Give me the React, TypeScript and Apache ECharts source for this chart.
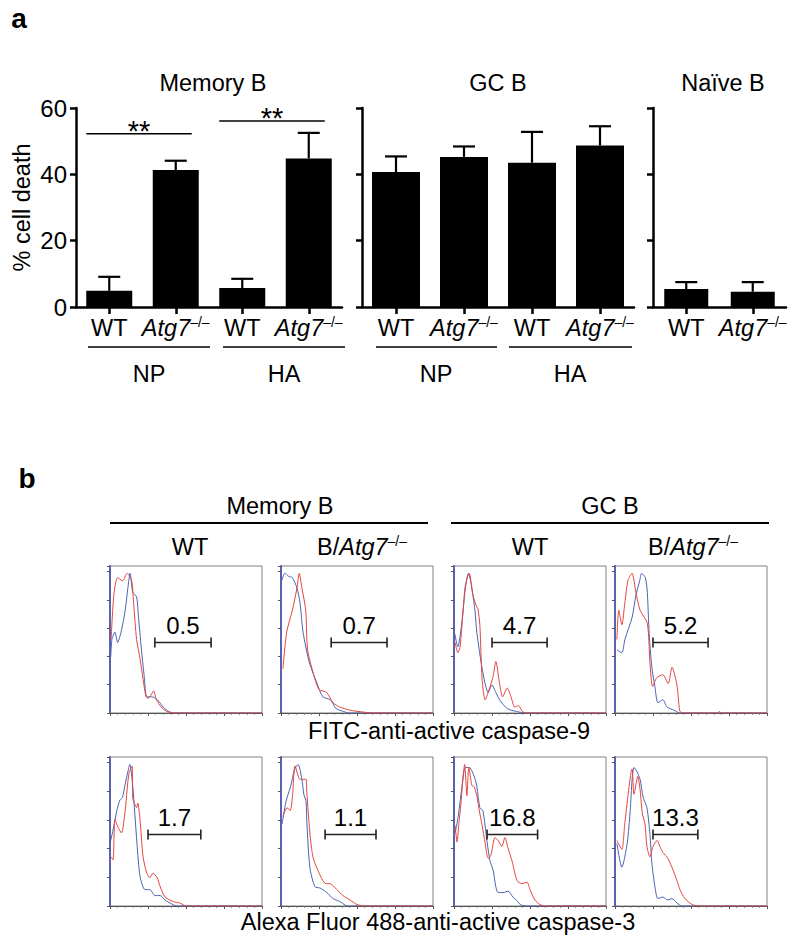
import React, { useEffect, useRef } from 'react';
import * as echarts from 'echarts';

const FONT = '"Liberation Sans", Arial, Helvetica, sans-serif';
const FS = 23.5;

// ---------- Panel a data ----------
const memCats = ['WT-NP', 'KO-NP', 'WT-HA', 'KO-HA'];
const memMeans = [4.9, 41.3, 5.7, 44.8];
const memErrTop = [9.1, 44.1, 8.5, 52.5];
const gcCats = ['WT-NP', 'KO-NP', 'WT-HA', 'KO-HA'];
const gcMeans = [40.7, 45.2, 43.5, 48.7];
const gcErrTop = [45.4, 48.4, 52.8, 54.5];
const naiveCats = ['WT', 'KO'];
const naiveMeans = [5.4, 4.6];
const naiveErrTop = [7.5, 7.5];
const yMax = 60;
const yInterval = 20;
const sigBrackets = [[0, 1, 52.2], [2, 3, 56.1]];
const sigLabel = '**';

// ---------- Panel b data (x: log decades, y: % of max) ----------
const mem9WtBlue = [[0.02, 38], [0.05, 50], [0.13, 55], [0.2, 48], [0.3, 56], [0.4, 70], [0.47, 85], [0.53, 95], [0.6, 82], [0.7, 79], [0.75, 65], [0.82, 45], [0.9, 25], [0.97, 11], [1.1, 11], [1.25, 9], [1.4, 4], [1.55, 1], [1.7, 0], [4, 0]];
const mem9WtRed = [[0.03, 50], [0.1, 80], [0.2, 92], [0.33, 90], [0.45, 95], [0.57, 90], [0.62, 75], [0.7, 50], [0.79, 37], [0.87, 23], [0.95, 11], [1.0, 10], [1.05, 11], [1.15, 15], [1.22, 9], [1.35, 4], [1.5, 1], [1.7, 0], [4, 0]];
const mem9KoBlue = [[0.02, 90], [0.1, 95], [0.2, 93], [0.3, 92], [0.42, 85], [0.5, 75], [0.58, 55], [0.75, 34], [0.95, 20], [1.1, 11], [1.3, 9], [1.45, 3], [1.65, 1], [1.8, 0], [4, 0]];
const mem9KoRed = [[0.05, 30], [0.15, 55], [0.3, 70], [0.42, 85], [0.48, 95], [0.55, 85], [0.65, 70], [0.7, 43], [0.85, 27], [1.0, 16], [1.2, 14], [1.37, 7], [1.55, 4], [1.8, 2], [2.2, 0.5], [2.5, 0], [4, 0]];
const gc9WtBlue = [[0.02, 54], [0.1, 45], [0.2, 60], [0.3, 85], [0.38, 95], [0.45, 88], [0.55, 70], [0.6, 55], [0.75, 29], [0.9, 14], [1.0, 19], [1.1, 14], [1.2, 9], [1.4, 3], [1.65, 1], [1.9, 0], [4, 0]];
const gc9WtRed = [[0.03, 48], [0.1, 41], [0.16, 45], [0.24, 70], [0.3, 87], [0.4, 95], [0.5, 80], [0.6, 72], [0.63, 71], [0.68, 60], [0.74, 23], [0.82, 9], [0.95, 18], [1.03, 25], [1.1, 35], [1.2, 20], [1.28, 11], [1.4, 17], [1.5, 11], [1.6, 4], [1.7, 5], [1.8, 1], [1.9, 0], [4, 0]];
const gc9KoBlue = [[0.05, 43], [0.18, 41], [0.26, 50], [0.45, 65], [0.55, 80], [0.65, 90], [0.7, 95], [0.8, 92], [0.85, 82], [0.9, 54], [0.97, 31], [1.05, 18], [1.13, 7], [1.26, 9], [1.37, 4], [1.55, 2], [1.7, 0], [4, 0]];
const gc9KoRed = [[0.05, 50], [0.1, 70], [0.18, 60], [0.26, 75], [0.34, 90], [0.45, 95], [0.55, 82], [0.66, 70], [0.85, 61], [0.92, 34], [0.99, 18], [1.1, 24], [1.26, 26], [1.4, 20], [1.5, 31], [1.63, 19], [1.7, 2], [1.76, 0], [2.7, 0], [2.75, 1], [2.8, 0], [4, 0]];
const mem3WtBlue = [[0.0, 42], [0.08, 51], [0.18, 64], [0.26, 71], [0.33, 73], [0.4, 82], [0.47, 90], [0.52, 95], [0.6, 80], [0.71, 42], [0.79, 20], [0.92, 11], [1.05, 11], [1.18, 7], [1.32, 7], [1.45, 4], [1.58, 2], [1.76, 0], [4, 0]];
const mem3WtRed = [[0.03, 33], [0.08, 31], [0.13, 58], [0.21, 53], [0.3, 49], [0.4, 64], [0.45, 78], [0.5, 89], [0.58, 94], [0.6, 72], [0.66, 68], [0.7, 66], [0.73, 69], [0.79, 58], [0.87, 33], [0.97, 22], [1.05, 19], [1.13, 22], [1.24, 19], [1.32, 13], [1.45, 6], [1.66, 3], [1.84, 2], [2.0, 0], [4, 0]];
const mem3KoBlue = [[0.03, 55], [0.13, 70], [0.25, 80], [0.36, 92], [0.45, 95], [0.55, 85], [0.6, 75], [0.66, 70], [0.68, 56], [0.76, 26], [0.89, 13], [1.03, 12], [1.21, 9], [1.37, 5], [1.55, 3], [1.75, 0], [4, 0]];
const mem3KoRed = [[0.05, 60], [0.16, 66], [0.24, 64], [0.3, 73], [0.37, 94], [0.5, 85], [0.58, 85], [0.66, 85], [0.68, 76], [0.76, 49], [0.84, 33], [0.97, 24], [1.18, 15], [1.29, 15], [1.47, 11], [1.63, 7], [1.82, 4], [2.0, 1], [2.2, 0], [4, 0]];
const gc3WtBlue = [[0.03, 49], [0.11, 60], [0.2, 78], [0.3, 93], [0.4, 93], [0.58, 83], [0.68, 66], [0.76, 64], [0.87, 43], [0.95, 30], [1.03, 24], [1.1, 13], [1.16, 9], [1.29, 9], [1.42, 10], [1.55, 6], [1.68, 3], [1.74, 1], [1.9, 0], [4, 0]];
const gc3WtRed = [[0.03, 54], [0.08, 43], [0.13, 56], [0.18, 68], [0.24, 87], [0.28, 95], [0.34, 74], [0.39, 93], [0.47, 81], [0.53, 80], [0.6, 74], [0.68, 62], [0.74, 54], [0.82, 42], [0.9, 32], [0.97, 34], [1.08, 46], [1.16, 44], [1.26, 40], [1.34, 46], [1.42, 39], [1.53, 30], [1.66, 17], [1.79, 15], [1.92, 16], [2.0, 11], [2.13, 4], [2.26, 1], [2.4, 0], [4, 0]];
const gc3KoBlue = [[0.05, 42], [0.18, 26], [0.32, 42], [0.4, 64], [0.45, 85], [0.5, 93], [0.58, 90], [0.66, 85], [0.74, 73], [0.84, 66], [0.92, 48], [0.97, 29], [1.05, 13], [1.13, 5], [1.26, 6], [1.39, 4], [1.5, 5], [1.63, 2], [1.76, 0], [4, 0]];
const gc3KoRed = [[0.05, 44], [0.18, 38], [0.26, 56], [0.45, 92], [0.5, 75], [0.6, 87], [0.66, 78], [0.72, 62], [0.79, 55], [0.84, 40], [0.92, 33], [1.0, 40], [1.11, 44], [1.18, 40], [1.26, 36], [1.39, 32], [1.53, 24], [1.63, 17], [1.71, 11], [1.84, 5], [2.03, 1], [2.2, 0], [4, 0]];

// gates: [start decade, end decade, height %]
const gates = [[1.18, 2.66, 48], [1.32, 2.79, 48], [1.0, 2.45, 48], [1.0, 2.45, 48], [1.0, 2.39, 48], [1.16, 2.5, 48], [0.87, 2.2, 48], [1.0, 2.18, 48]];
const gateLabels = ['0.5', '0.7', '4.7', '5.2', '1.7', '1.1', '16.8', '13.3'];
const histBlue = [mem9WtBlue, mem9KoBlue, gc9WtBlue, gc9KoBlue, mem3WtBlue, mem3KoBlue, gc3WtBlue, gc3KoBlue];
const histRed = [mem9WtRed, mem9KoRed, gc9WtRed, gc9KoRed, mem3WtRed, mem3KoRed, gc3WtRed, gc3KoRed];

const BLUE = '#4a62b4';
const RED = '#e4453d';

function buildOption() {
  const axisBlack = { color: '#000', width: 2.5 };
  const catLabel = {
    interval: 0,
    margin: 8,
    formatter: (v: string) => (v.startsWith('WT') ? '{n|WT}' : '{i|Atg7}{s|–/–}'),
    rich: {
      n: { fontFamily: FONT, fontSize: FS, color: '#000', lineHeight: 26 },
      i: { fontFamily: FONT, fontSize: FS, fontStyle: 'italic', color: '#000', lineHeight: 26 },
      s: { fontFamily: FONT, fontSize: 14, color: '#000', verticalAlign: 'top' },
    },
  };
  const barGrids = [
    { left: 76, top: 108, width: 266, height: 199 },
    { left: 362, top: 108, width: 272, height: 199 },
    { left: 653, top: 108, width: 133, height: 199 },
  ];
  const barCats = [memCats, gcCats, naiveCats];
  const barMeans = [memMeans, gcMeans, naiveMeans];
  const barErr = [memErrTop, gcErrTop, naiveErrTop];
  const barWidths = [46, 48, 44];

  const histLefts = [110, 281, 454, 615];
  const histRows = [{ top: 566, height: 147 }, { top: 757, height: 149 }];

  const grid: any[] = [];
  const xAxis: any[] = [];
  const yAxis: any[] = [];
  const series: any[] = [];

  barGrids.forEach((g, k) => {
    grid.push({ ...g, outerBoundsMode: 'none', containLabel: false });
    xAxis.push({
      type: 'category', gridIndex: k, data: barCats[k],
      axisLine: { show: true, lineStyle: axisBlack },
      axisTick: { show: true, alignWithLabel: true, length: 7, lineStyle: axisBlack },
      axisLabel: catLabel,
      splitLine: { show: false },
    });
    yAxis.push({
      type: 'value', gridIndex: k, min: 0, max: yMax, interval: yInterval,
      axisLine: { show: true, lineStyle: axisBlack },
      axisTick: { show: true, length: 6, lineStyle: axisBlack },
      axisLabel: { show: k === 0, fontFamily: FONT, fontSize: 24, color: '#000', margin: 9 },
      splitLine: { show: false },
      name: k === 0 ? '% cell death' : '',
      nameLocation: 'middle', nameGap: 42,
      nameTextStyle: { fontFamily: FONT, fontSize: FS, color: '#000' },
    });
    series.push({
      type: 'bar', xAxisIndex: k, yAxisIndex: k, data: barMeans[k],
      barWidth: barWidths[k], itemStyle: { color: '#000' }, z: 2,
    });
    series.push({
      type: 'custom', xAxisIndex: k, yAxisIndex: k, z: 3,
      data: barCats[k].map((_, i) => [i, barMeans[k][i], barErr[k][i]]),
      encode: { x: 0, y: 2 },
      renderItem: (params: any, api: any) => {
        const idx = api.value(0);
        const top = api.coord([idx, api.value(1)]);
        const end = api.coord([idx, api.value(2)]);
        return {
          type: 'group',
          children: [
            { type: 'line', shape: { x1: top[0], y1: top[1], x2: end[0], y2: end[1] }, style: { stroke: '#000', lineWidth: 2.2 } },
            { type: 'line', shape: { x1: end[0] - 11, y1: end[1], x2: end[0] + 11, y2: end[1] }, style: { stroke: '#000', lineWidth: 2.2 } },
          ],
        };
      },
    });
  });

  // significance brackets on Memory B
  series.push({
    type: 'custom', xAxisIndex: 0, yAxisIndex: 0, z: 4,
    data: sigBrackets,
    encode: { x: [0, 1], y: 2 },
    renderItem: (params: any, api: any) => {
      const a = api.coord([api.value(0), api.value(2)]);
      const b = api.coord([api.value(1), api.value(2)]);
      return {
        type: 'group',
        children: [
          { type: 'line', shape: { x1: a[0] - 23, y1: a[1], x2: b[0] + 16, y2: b[1] }, style: { stroke: '#000', lineWidth: 1.5 } },
          { type: 'text', x: (a[0] - 23 + b[0] + 16) / 2, y: a[1] - 3, style: { text: sigLabel, fontFamily: FONT, fontSize: 29, fill: '#000', align: 'center', verticalAlign: 'middle' } },
        ],
      };
    },
  });

  // histograms
  for (let h = 0; h < 8; h++) {
    const gi = 3 + h;
    const row = histRows[h < 4 ? 0 : 1];
    grid.push({
      left: histLefts[h % 4], top: row.top, width: 152, height: row.height,
      show: true, borderColor: '#808080', borderWidth: 1, backgroundColor: 'transparent',
      outerBoundsMode: 'none', containLabel: false,
    });
    xAxis.push({
      type: 'value', gridIndex: gi, min: 0, max: 4, interval: 1,
      axisLine: { show: true, lineStyle: { color: '#555', width: 1 } },
      axisTick: { show: true, length: 3, lineStyle: { color: '#555', width: 1 } },
      minorTick: { show: true, splitNumber: 5, length: 2, lineStyle: { color: '#777', width: 0.8 } },
      axisLabel: { show: false },
      splitLine: { show: false },
    });
    yAxis.push({
      type: 'value', gridIndex: gi, min: 0, max: 100, interval: 19.25,
      axisLine: { show: true, lineStyle: { color: '#5a63b0', width: 2 } },
      axisTick: { show: true, length: 3, lineStyle: { color: '#555', width: 1 } },
      axisLabel: { show: false },
      splitLine: { show: false },
    });
    series.push({
      type: 'line', xAxisIndex: gi, yAxisIndex: gi, data: histBlue[h],
      showSymbol: false, smooth: 0.25, lineStyle: { color: BLUE, width: 1 }, z: 2,
    });
    series.push({
      type: 'line', xAxisIndex: gi, yAxisIndex: gi, data: histRed[h],
      showSymbol: false, smooth: 0.25, lineStyle: { color: RED, width: 1 }, z: 3,
    });
    const label = gateLabels[h];
    series.push({
      type: 'custom', xAxisIndex: gi, yAxisIndex: gi, z: 4,
      data: [gates[h]],
      encode: { x: [0, 1], y: 2 },
      renderItem: (params: any, api: any) => {
        const a = api.coord([api.value(0), api.value(2)]);
        const b = api.coord([api.value(1), api.value(2)]);
        const st = { stroke: '#222', lineWidth: 1.6 };
        return {
          type: 'group',
          children: [
            { type: 'line', shape: { x1: a[0], y1: a[1], x2: b[0], y2: b[1] }, style: st },
            { type: 'line', shape: { x1: a[0], y1: a[1] - 5, x2: a[0], y2: a[1] + 5 }, style: st },
            { type: 'line', shape: { x1: b[0], y1: b[1] - 5, x2: b[0], y2: b[1] + 5 }, style: st },
            { type: 'text', x: (a[0] + b[0]) / 2, y: a[1] - 17, style: { text: label, fontFamily: FONT, fontSize: 24, fill: '#000', align: 'center', verticalAlign: 'middle' } },
          ],
        };
      },
    });
  }

  const t = (text: string, x: number, y: number, extra: any = {}) => ({
    type: 'text', x, y,
    style: { text, fontFamily: FONT, fontSize: FS, fill: '#000', align: 'center', verticalAlign: 'middle', ...extra },
  });
  const ln = (x1: number, x2: number, y: number, w = 1.5) => ({
    type: 'line', shape: { x1, y1: y, x2, y2: y }, style: { stroke: '#000', lineWidth: w },
  });
  const koRich = {
    n: { fontFamily: FONT, fontSize: FS, fill: '#000', lineHeight: 26 },
    i: { fontFamily: FONT, fontSize: FS, fontStyle: 'italic', fill: '#000', lineHeight: 26 },
    s: { fontFamily: FONT, fontSize: 14, fill: '#000', verticalAlign: 'top' },
  };

  const graphic = [
    t('a', 19, 18, { fontWeight: 'bold', fontSize: 28 }),
    t('Memory B', 213, 83),
    t('GC B', 498, 83),
    t('Naïve B', 723, 83),
    ln(88, 210, 347), ln(223, 345, 347), ln(376, 497, 347), ln(509, 632, 347),
    t('NP', 149, 374), t('HA', 284, 374), t('NP', 436, 374), t('HA', 570, 374),
    t('b', 27, 478, { fontWeight: 'bold', fontSize: 28 }),
    t('Memory B', 280, 506), t('GC B', 610, 506),
    ln(110, 428, 523, 2), ln(451, 769, 523, 2),
    t('WT', 190, 547), t('WT', 530, 547),
    { type: 'text', x: 362, y: 547, style: { text: '{n|B/}{i|Atg7}{s|–/–}', rich: koRich, align: 'center', verticalAlign: 'middle' } },
    { type: 'text', x: 693, y: 547, style: { text: '{n|B/}{i|Atg7}{s|–/–}', rich: koRich, align: 'center', verticalAlign: 'middle' } },
    t('FITC-anti-active caspase-9', 449, 731),
    t('Alexa Fluor 488-anti-active caspase-3', 438, 922),
  ];

  return {
    animation: false,
    backgroundColor: '#fff',
    textStyle: { fontFamily: FONT },
    grid, xAxis, yAxis, series, graphic,
  };
}

export default function App() {
  const ref = useRef<HTMLDivElement>(null);
  useEffect(() => {
    if (!ref.current) return;
    const chart = echarts.init(ref.current, undefined, { renderer: 'svg' });
    chart.setOption(buildOption() as any);
    return () => chart.dispose();
  }, []);
  return <div ref={ref} style={{ position: 'absolute', left: 0, top: 0, width: 800, height: 942 }} />;
}
